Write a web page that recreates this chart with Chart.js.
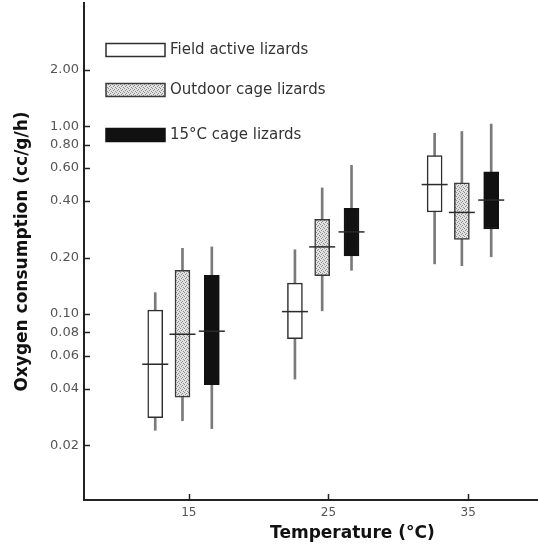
<!DOCTYPE html>
<html>
<head>
<meta charset="utf-8">
<script src="https://cdn.jsdelivr.net/npm/chart.js@4.4.0/dist/chart.umd.min.js"></script>
<style>
  html, body { margin: 0; padding: 0; background: #fff; }
</style>
</head>
<body>
<canvas id="chart" width="538" height="548"></canvas>
<script>
// temperatures on the x axis and the log ticks of the y axis
const temperatures = [15, 25, 35];
const yTicks = [0.02, 0.04, 0.06, 0.08, 0.10, 0.20, 0.40, 0.60, 0.80, 1.00, 2.00];

// Field active lizards: range, box and median (cc/g/h)
const fieldMin = [0.024, 0.045, 0.185];
const fieldBoxLow = [0.028, 0.074, 0.35];
const fieldMedian = [0.054, 0.103, 0.49];
const fieldBoxHigh = [0.105, 0.146, 0.70];
const fieldMax = [0.13, 0.22, 0.92];

// Outdoor cage lizards
const outdoorMin = [0.027, 0.104, 0.181];
const outdoorBoxLow = [0.036, 0.160, 0.250];
const outdoorMedian = [0.078, 0.228, 0.348];
const outdoorBoxHigh = [0.171, 0.32, 0.50];
const outdoorMax = [0.224, 0.47, 0.94];

// 15 C cage lizards
const cageMin = [0.0245, 0.171, 0.202];
const cageBoxLow = [0.042, 0.204, 0.284];
const cageMedian = [0.081, 0.274, 0.405];
const cageBoxHigh = [0.161, 0.366, 0.573];
const cageMax = [0.228, 0.62, 1.03];

const canvas = document.getElementById("chart");
const ctx = canvas.getContext("2d");

// stippled grey fill for the outdoor boxes
const makeStipple = () => {
    const c = document.createElement("canvas");
    c.width = 4;
    c.height = 4;
    const g = c.getContext("2d");
    g.fillStyle = "#e2e2e2";
    g.fillRect(0, 0, 4, 4);
    g.fillStyle = "#8c8c8c";
    g.fillRect(0, 0, 1, 1);
    g.fillRect(2, 1, 1, 1);
    g.fillRect(1, 2, 1, 1);
    g.fillRect(3, 3, 1, 1);
    return ctx.createPattern(c, "repeat");
};

const groups = [
    { label: "Field active lizards", min: fieldMin, low: fieldBoxLow, med: fieldMedian, high: fieldBoxHigh, max: fieldMax,
      fill: "#ffffff", edge: "#2e2e2e", shift: -2.4 },
    { label: "Outdoor cage lizards", min: outdoorMin, low: outdoorBoxLow, med: outdoorMedian, high: outdoorBoxHigh, max: outdoorMax,
      fill: makeStipple(), edge: "#3a3a3a", shift: -0.45 },
    { label: "15°C cage lizards", min: cageMin, low: cageBoxLow, med: cageMedian, high: cageBoxHigh, max: cageMax,
      fill: "#111111", edge: "#111111", shift: 1.65 },
];

const datasets = [];
groups.forEach((grp) => {
    datasets.push({
        type: "bar",
        label: grp.label + " range",
        data: temperatures.map((t, i) => ({ x: t + grp.shift, y: [grp.min[i], grp.max[i]] })),
        backgroundColor: "#7a7a7a",
        barThickness: 2,
        grouped: false,
        order: 3,
    });
    datasets.push({
        type: "bar",
        label: grp.label,
        isBox: true,
        data: temperatures.map((t, i) => ({ x: t + grp.shift, y: [grp.low[i], grp.high[i]] })),
        backgroundColor: grp.fill,
        borderColor: grp.edge,
        borderWidth: 1.5,
        borderSkipped: false,
        barThickness: 15,
        grouped: false,
        order: 2,
    });
    datasets.push({
        type: "scatter",
        label: grp.label + " median",
        data: temperatures.map((t, i) => ({ x: t + grp.shift, y: grp.med[i] })),
        pointStyle: "line",
        radius: 13,
        borderColor: "#2a2a2a",
        borderWidth: 1.5,
        order: 1,
    });
});

// short tick marks pointing into the plot
const inwardTicks = {
    id: "inwardTicks",
    afterDraw(chart) {
        const { ctx, chartArea, scales } = chart;
        ctx.save();
        ctx.strokeStyle = "#222";
        ctx.lineWidth = 1.5;
        ctx.beginPath();
        scales.y.ticks.forEach((t) => {
            const y = Math.round(scales.y.getPixelForValue(t.value)) + 0.5;
            ctx.moveTo(chartArea.left, y);
            ctx.lineTo(chartArea.left + 6, y);
        });
        scales.x.ticks.forEach((t) => {
            const x = Math.round(scales.x.getPixelForValue(t.value)) + 0.5;
            ctx.moveTo(x, chartArea.bottom);
            ctx.lineTo(x, chartArea.bottom - 6);
        });
        ctx.stroke();
        ctx.restore();
    },
};

// key drawn inside the plot, using the box datasets' own styles
const boxKey = {
    id: "boxKey",
    afterDraw(chart, args, opts) {
        const { ctx } = chart;
        const boxes = chart.data.datasets.filter((d) => d.isBox);
        ctx.save();
        ctx.font = "15px 'DejaVu Sans'";
        ctx.textBaseline = "middle";
        boxes.forEach((d, i) => {
            const y = opts.rows[i];
            ctx.fillStyle = d.backgroundColor;
            ctx.fillRect(opts.x, y - opts.h / 2, opts.w, opts.h);
            ctx.strokeStyle = d.borderColor;
            ctx.lineWidth = 1.5;
            ctx.strokeRect(opts.x, y - opts.h / 2, opts.w, opts.h);
            ctx.fillStyle = "#333";
            ctx.fillText(d.label, opts.x + opts.w + 5, y);
        });
        ctx.restore();
    },
};

new Chart(ctx, {
    type: "bar",
    data: { datasets: datasets },
    plugins: [inwardTicks, boxKey],
    options: {
        responsive: false,
        animation: false,
        devicePixelRatio: 1,
        layout: { autoPadding: false, padding: { top: 3, right: 0, left: 0, bottom: 0 } },
        plugins: {
            legend: { display: false },
            tooltip: { enabled: false },
            boxKey: { x: 106, w: 59, h: 13, rows: [50, 90, 135] },
        },
        scales: {
            x: {
                type: "linear",
                min: 7.5,
                max: 40,
                offset: false,
                afterBuildTicks: (s) => { s.ticks = temperatures.map((v) => ({ value: v })); },
                afterFit: (s) => { s.height = 48; s.paddingLeft = 0; s.paddingRight = 0; },
                grid: { display: false, drawTicks: false },
                border: { display: true, color: "#222", width: 2 },
                ticks: {
                    color: "#555",
                    padding: 6,
                    font: { family: "DejaVu Sans", size: 12 },
                },
                title: {
                    display: true,
                    text: "              Temperature (°C)",
                    color: "#111",
                    font: { family: "DejaVu Sans", size: 17, weight: "bold" },
                    padding: { top: 0, bottom: 4 },
                },
            },
            y: {
                type: "logarithmic",
                min: 0.0102,
                max: 4.55,
                afterBuildTicks: (s) => { s.ticks = yTicks.map((v) => ({ value: v })); },
                afterFit: (s) => { s.width = 84; s.paddingTop = 0; s.paddingBottom = 0; },
                grid: { display: false, drawTicks: false },
                border: { display: true, color: "#222", width: 2 },
                ticks: {
                    autoSkip: false,
                    color: "#555",
                    padding: 5,
                    font: { family: "DejaVu Sans", size: 13 },
                    callback: (v) => Number(v).toFixed(2),
                },
                title: {
                    display: true,
                    text: "Oxygen consumption (cc/g/h)",
                    color: "#111",
                    font: { family: "DejaVu Sans", size: 17, weight: "bold" },
                    padding: { top: 12, bottom: 0 },
                },
            },
        },
    },
});
</script>
</body>
</html>
